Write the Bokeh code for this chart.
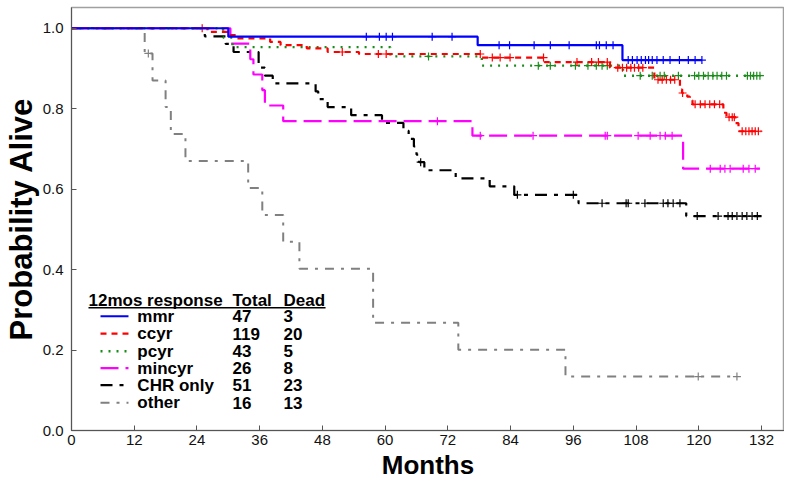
import numpy as np
from bokeh.plotting import figure
from bokeh.models import Range1d, FixedTicker, NumeralTickFormatter, Label, Arrow
from bokeh.embed import file_html
from bokeh.resources import INLINE

# ---------------- data ----------------
x_ticks = [0, 12, 24, 36, 48, 60, 72, 84, 96, 108, 120, 132]
y_ticks = [0.0, 0.2, 0.4, 0.6, 0.8, 1.0]

groups = ["mmr", "ccyr", "pcyr", "mincyr", "CHR only", "other"]
totals = ["47", "119", "43", "26", "51", "16"]
deads = ["3", "20", "5", "8", "23", "13"]

mmr_t = [0, 30.0, 77.7, 105.4]
mmr_s = [1.0, 0.979, 0.958, 0.921]
mmr_end = 120.6
mmr_cens = [56.4, 58.9, 60.2, 61.4, 69.0, 72.8, 81.8, 83.8, 88.5, 91.6, 95.2,
            100.4, 101.0, 102.3, 103.6, 106.5, 107.3, 108.2, 109.0, 109.8,
            110.4, 111.1, 112.0, 113.2, 114.5, 116.3, 118.0, 119.3, 120.6]

ccyr_t = [0, 26.0, 30.0, 31.5, 38.0, 40.0, 45.0, 49.0, 55.0, 78.5, 90.5, 103.0,
          111.5, 116.4, 116.8, 117.8, 118.3, 118.8, 124.7, 125.3, 127.0, 127.6]
ccyr_s = [1.0, 0.991, 0.983, 0.975, 0.966, 0.958, 0.950, 0.941, 0.936, 0.927,
          0.916, 0.902, 0.872, 0.848, 0.839, 0.830, 0.821, 0.811, 0.790, 0.779,
          0.764, 0.744]
ccyr_end = 132.0
ccyr_cens = [25.0, 51.8, 58.7, 60.2, 78.2, 80.5, 82.0, 83.9, 90.3, 96.7, 99.5,
             100.8, 102.5, 104.5, 105.4, 106.2, 107.0, 107.7, 108.5, 109.3,
             112.2, 113.0, 113.8, 114.6, 115.4, 116.9, 119.3, 120.3, 121.2,
             122.1, 123.0, 124.0, 125.8, 126.4, 126.8, 128.3, 129.0, 129.6,
             130.2, 130.8, 131.4]

pcyr_t = [0, 29.0, 30.8, 61.0, 78.5, 105.5]
pcyr_s = [1.0, 0.977, 0.953, 0.930, 0.907, 0.882]
pcyr_end = 131.8
pcyr_cens = [68.3, 89.3, 91.6, 96.4, 98.8, 100.4, 101.5, 102.5, 108.8, 111.1,
             112.6, 113.4, 116.1, 119.2, 120.0, 120.9, 121.8, 122.7, 123.5,
             124.4, 125.3, 129.3, 129.9, 130.5, 131.1, 131.7]

mincyr_t = [0, 30.4, 34.2, 34.8, 36.5, 37.0, 40.5, 76.7, 117.0]
mincyr_s = [1.0, 0.962, 0.923, 0.885, 0.846, 0.808, 0.769, 0.733, 0.651]
mincyr_end = 131.7
mincyr_cens = [70.0, 78.2, 88.3, 102.1, 102.5, 108.4, 110.7, 112.6, 113.6,
               114.9, 122.2, 124.1, 125.0, 126.0, 128.5, 129.6, 130.8]

chr_t = [0, 25.5, 29.5, 31.0, 35.8, 37.0, 38.5, 46.7, 47.2, 49.0, 53.5, 59.4,
         63.5, 64.5, 65.5, 66.0, 66.5, 67.5, 73.5, 80.0, 84.7, 97.0, 117.6]
chr_s = [1.0, 0.980, 0.961, 0.941, 0.902, 0.882, 0.863, 0.843, 0.824, 0.804,
         0.784, 0.765, 0.745, 0.725, 0.706, 0.686, 0.667, 0.647, 0.627, 0.607,
         0.586, 0.565, 0.533]
chr_end = 132.0
chr_cens = [66.8, 85.3, 96.0, 101.5, 106.1, 106.5, 109.7, 113.2, 114.1, 115.1,
            116.4, 119.7, 123.7, 125.6, 126.4, 127.3, 128.3, 129.2, 130.2, 131.2]

other_t = [0, 14.0, 15.5, 18.0, 19.0, 21.8, 33.8, 36.5, 40.5, 43.6, 57.7, 74.0, 94.5]
other_s = [1.0, 0.9375, 0.870, 0.804, 0.737, 0.670, 0.603, 0.536, 0.469, 0.402,
           0.268, 0.201, 0.134]
other_end = 127.3
other_cens = [14.7, 119.9, 127.3]

# ---------------- styles ----------------
styles = {
    "mmr": dict(color="#0000FF", dash="solid", width=2.2),
    "ccyr": dict(color="#FF0000", dash="6 5", width=2.2),
    "pcyr": dict(color="#1A8C1A", dash="2 6", width=2.4),
    "mincyr": dict(color="#FF00FF", dash="18 7", width=2.2),
    "CHR only": dict(color="#000000", dash="12 7 4 7", width=2.2),
    "other": dict(color="#808080", dash="9 7 3 7", width=2.0),
}

series = {
    "mmr": (mmr_t, mmr_s, mmr_end, mmr_cens),
    "ccyr": (ccyr_t, ccyr_s, ccyr_end, ccyr_cens),
    "pcyr": (pcyr_t, pcyr_s, pcyr_end, pcyr_cens),
    "mincyr": (mincyr_t, mincyr_s, mincyr_end, mincyr_cens),
    "CHR only": (chr_t, chr_s, chr_end, chr_cens),
    "other": (other_t, other_s, other_end, other_cens),
}

FONT = "Liberation Sans"

p = figure(width=784, height=482,
           x_range=Range1d(0, 136.4), y_range=Range1d(0, 1.0516),
           output_backend="svg", toolbar_location=None,
           min_border_left=71, min_border_right=0, min_border_top=7,
           min_border_bottom=47)
p.background_fill_color = "white"
p.border_fill_color = "white"
p.outline_line_color = "#a0a0a0"
p.outline_line_width = 1.5
p.xgrid.visible = False
p.ygrid.visible = False

# draw curves (blue on top, as in the reference)
for g in ["other", "CHR only", "mincyr", "pcyr", "ccyr", "mmr"]:
    t, s, end, cens = series[g]
    st = styles[g]
    xs = list(t) + [end]
    ys = list(s) + [s[-1]]
    p.step(xs, ys, mode="after", line_color=st["color"], line_width=st["width"],
           line_dash=st["dash"])
    tarr = np.array(t)
    cy = [s[int(np.searchsorted(tarr, c, side="right")) - 1] for c in cens]
    p.scatter(cens, cy, marker="cross", size=8, line_color=st["color"],
              line_width=1.2)

# axes
p.xaxis.ticker = FixedTicker(ticks=x_ticks)
p.yaxis.ticker = FixedTicker(ticks=y_ticks)
p.yaxis.formatter = NumeralTickFormatter(format="0.0")
for ax in (p.xaxis[0], p.yaxis[0]):
    ax.major_tick_in = 5
    ax.major_tick_out = 0
    ax.minor_tick_in = 0
    ax.minor_tick_out = 0
    ax.axis_line_color = "#555555"
    ax.major_tick_line_color = "#555555"
    ax.major_label_text_font = FONT
    ax.major_label_text_font_size = "15px"
    ax.major_label_text_color = "#111111"
    ax.axis_label_text_font = FONT
    ax.axis_label_text_font_style = "bold"
    ax.axis_label_text_color = "#000000"

p.xaxis.axis_label = "Months"
p.xaxis.axis_label_text_font_size = "26px"
p.xaxis.major_label_standoff = 4
p.xaxis.axis_label_standoff = 2
p.yaxis.axis_label = "Probability Alive"
p.yaxis.axis_label_text_font_size = "31px"
p.yaxis.major_label_standoff = 8
p.yaxis.axis_label_standoff = 1

# ---------------- table legend ----------------
hdr_y = 0.322
row_y = [0.284, 0.241, 0.197, 0.155, 0.113, 0.069]
x_sample0, x_sample1 = 5.55, 10.9
x_label, x_total, x_dead = 12.6, 30.8, 40.55
x_hdr = 3.25
x_hdr_end = 48.6
underline_y = 0.305

def add_text(x, y, txt):
    p.add_layout(Label(x=x, y=y, text=txt, text_font=FONT, text_font_size="17px",
                       text_font_style="bold", text_baseline="middle",
                       text_align="left", text_color="#000000"))

add_text(x_hdr, hdr_y, "12mos response")
add_text(x_total, hdr_y, "Total")
add_text(x_dead, hdr_y, "Dead")
p.add_layout(Arrow(end=None, x_start=x_hdr, y_start=underline_y, x_end=x_hdr_end,
                   y_end=underline_y, line_color="#000000", line_width=1.5))

for g, tot, dd, yy in zip(groups, totals, deads, row_y):
    st = styles[g]
    p.add_layout(Arrow(end=None, x_start=x_sample0, y_start=yy, x_end=x_sample1,
                       y_end=yy, line_color=st["color"], line_width=st["width"],
                       line_dash=st["dash"]))
    add_text(x_label, yy, g)
    add_text(x_total, yy, tot)
    add_text(x_dead, yy, dd)

open("out.html", "w").write(file_html(p, INLINE))
